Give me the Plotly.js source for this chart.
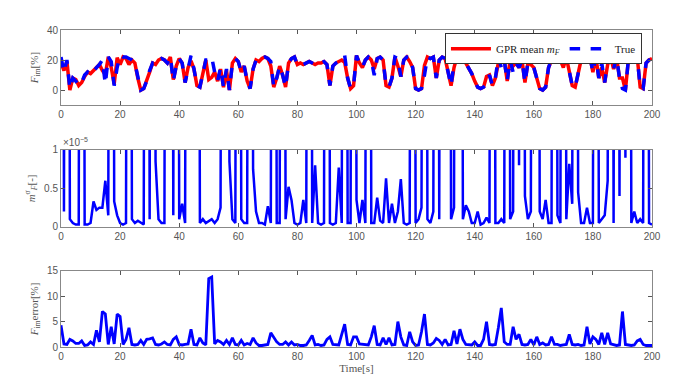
<!DOCTYPE html>
<html><head><meta charset="utf-8">
<script src="https://cdn.plot.ly/plotly-3.0.1.min.js"></script>
<style>body{margin:0;background:#fff}#c{width:700px;height:384px}</style>
</head><body><div id="c"></div>
<script>
// time axis [s]
const time = Array.from({length: 201}, (_, i) => i);
// True F_im [%]
const trueF = [22,12,20,1,8,6,3,5,10,12,10,13,15,17,20,4,22,19,3,15,
23,22,22,21,20,18,8,0,1,6,13,18,17,20,21,20,18,22,6,16,
21,18,5,15,23,14,3,2,12,20,20,22,12,6,15,2,14,0,18,21,
19,12,16,6,1,14,20,19,21,22,21,19,2,8,16,10,2,18,21,22,
17,18,17,18,19,18,17,18,18,19,17,3,16,18,19,20,23,8,1,3,
23,18,15,20,22,20,10,21,22,20,3,2,8,22,21,9,20,22,22,15,
1,0,1,10,22,21,22,8,20,22,21,12,3,18,22,23,21,18,15,11,
6,2,1,2,4,10,3,8,22,15,20,6,20,12,18,15,20,5,18,17,
15,8,1,0,2,15,20,23,22,20,15,22,12,3,2,10,20,21,17,22,
12,22,8,18,5,20,22,14,22,8,1,0,20,21,18,22,2,1,18,20,21];
// GPR mean m_F [%]
const gprMean = [18,13,19,0,8,7,3,5,9,12,11,13,15,17,13,10.5,22,15,4,21.5,
17,22,21,17,20,18,8,0,1,6,12,18,17,20,21,20,18,22,7,16,
21,18,5,15,19.5,14,3,2,12,20,7,8.5,12,6,14,2,13,0,18,21,
19,12,16,6,1,14,20,19,21,22,21,16,2,8,16,10,2,18,21,22,
17,18,17,18,19,18,17,18,18,19,17,3,16,18,19,20,18.5,8,1,3,
23,18,15,20,22,20,14,21,22,20,3,2,8,22,16,9,20,22,19,15,
1,0,1,16.5,22,21,22,8,20,22,21,12,3,15,22,19.5,21,18,15,11,
6,2,1,2,9,10,3,8,18,22.7,20,6,20,16,18,15,20,5,18,17,
15,8,1,0,2,15,20,23,22,20,15,22,12,3,2,10,20,21,21,22,
12,22,8,15,5,17,22,14,22,8,8,0,20,21,18,22,2,1,18,20,21];
// GPR variance m_F^sigma [x1e-5] (values above 1 run off the top of the panel)
const gprVar = [20,0.2,20,0.1,0.05,0.03,0.03,20,0.03,0.03,0.05,0.33,0.22,0.25,0.25,0.6,0.15,20,0.33,0.15,
0.05,0.03,0.05,20,0.1,0.05,0.08,0.05,0.03,20,0.1,20,0.85,0.1,0.05,0.05,20,20,0.15,20,
0.1,0.3,0.05,20,20,20,20,0.05,0.1,0.05,0.08,0.1,0.05,0.1,0.25,20,20,0.85,0.1,0.05,
20,0.1,0.05,0.05,20,0.75,0.2,0.05,0.05,0.03,0.27,0.05,20,0.05,0.05,20,0.1,0.52,0.35,0.05,
0.03,0.05,0.35,0.05,20,0.05,0.8,0.05,0.03,0.05,20,0.05,0.03,0.05,0.77,0.05,20,0.05,0.05,20,
0.35,0.05,0.35,0.05,20,0.05,0.05,0.38,0.08,0.05,0.63,0.05,0.3,0.05,0.2,0.62,0.05,0.03,0.05,20,
0.05,0.1,0.25,20,0.1,0.05,0.2,20,0.1,20,20,20,0.1,0.25,20,20,0.1,0.28,0.2,0.05,
0.05,0.2,0.03,0.05,0.12,0.05,20,0.05,0.05,0.1,0.05,20,0.1,0.2,20,0.8,20,0.4,0.1,0.2,
20,20,0.2,0.1,0.35,0.05,0.05,20,0.15,0.05,20,0.1,0.82,0.3,20,0.45,0.05,0.05,0.25,0.05,
0.05,20,0.05,0.1,0.15,0.6,20,0.05,20,0.4,20,0.9,20,0.05,0.2,0.05,0.1,0.05,20,0.05,0.03];
// F_im error [%]
const errF = [4.3,0.6,0.5,1.5,1.2,0.7,0.7,1.2,0.3,0.4,1,0.5,3.3,1,7,6.5,0.5,4,0.6,6.5,
6,0.5,1.5,3.8,0.5,0.4,0.5,1.3,0.5,1.5,1.6,1.8,0.5,0.4,0.6,1,0.5,0.4,1.5,2,
0.5,0.4,0.5,0.6,3.5,0.5,0.4,1.8,0.8,0.4,13.5,13.8,0.6,1.3,1,0.5,1.3,0.5,1.8,0.5,
0.4,1.3,0.4,0.7,0.5,1.8,0.8,0.3,0.3,0.4,0.5,2.8,2,1,0.5,0.5,1,0.4,1,0.4,
0.5,0.3,0.3,0.4,1.3,2.3,0.4,0.5,0.3,0.4,1.5,2,0.5,0.5,0.4,2.5,4.5,0.5,0.4,2,
2,0.6,0.5,0.5,0.4,2,4.2,0.5,0.4,1.8,0.5,1.8,0.4,0.5,5,2,0.4,0.3,3,1,
0.3,0.4,3,6.5,0.5,0.4,0.8,1.7,1.3,0.5,1.5,0.4,0.5,3.2,0.6,3.5,1.5,0.5,0.4,0.4,
1,0.3,0.3,1.5,5,0.5,0.4,0.5,3.8,7.7,1,0.5,0.5,4,1.5,2.5,0.5,0.4,0.5,1.5,
0.4,2,0.5,0.8,0.4,0.5,2,0.5,0.5,0.3,0.4,0.5,2.5,0.5,0.4,0.5,0.3,0.4,4,0.6,
2,1.5,0.5,2.8,0.5,2.8,0.6,0.5,0.3,0.4,7,0.5,0.4,0.3,0.4,1.2,1.5,0.5,0.3,0.3,0.3];
const xTicks = [0,20,40,60,80,100,120,140,160,180,200];

const serif = 'Liberation Serif, Times New Roman, serif';
const sans = 'Liberation Sans, Arial, sans-serif';
const tickFont = {family: sans, size: 10, color: '#555'};
const titleFont = {family: serif, size: 11, color: '#555'};

const traces = [
  {x: time, y: gprMean, type: 'scatter', mode: 'lines', name: 'GPR mean <i>m</i><sub><i>F</i></sub>',
   line: {color: '#ff0000', width: 3.5}, xaxis: 'x', yaxis: 'y'},
  {x: time, y: trueF, type: 'scatter', mode: 'lines', name: 'True',
   line: {color: '#0000ff', width: 3.5, dash: 'dash'}, xaxis: 'x', yaxis: 'y'},
  {x: time, y: gprVar, type: 'scatter', mode: 'lines', showlegend: false,
   line: {color: '#0000ff', width: 2.5}, xaxis: 'x2', yaxis: 'y2'},
  {x: time, y: errF, type: 'scatter', mode: 'lines', showlegend: false,
   line: {color: '#0000ff', width: 2.8}, xaxis: 'x3', yaxis: 'y3'}
];

function xa(anchor, title) {
  const a = {range: [0, 200], tickvals: xTicks, ticktext: xTicks.map(String), anchor: anchor,
    showline: true, mirror: 'ticks', linecolor: '#888', linewidth: 1, ticks: 'inside', ticklen: 4,
    tickcolor: '#555', showgrid: false, zeroline: false, tickfont: tickFont};
  if (title) a.title = {text: title, font: titleFont, standoff: 2};
  return a;
}
function ya(anchor, domain, range, tv, tt, title) {
  return {domain: domain, range: range, tickvals: tv, ticktext: tt, anchor: anchor,
    showline: true, mirror: 'ticks', linecolor: '#888', linewidth: 1, ticks: 'inside', ticklen: 4,
    tickcolor: '#555', showgrid: false, zeroline: false, tickfont: tickFont,
    title: {text: title, font: titleFont, standoff: 6}};
}

const layout = {
  width: 700, height: 384,
  margin: {l: 61, r: 48, t: 30, b: 37},
  paper_bgcolor: '#fff', plot_bgcolor: '#fff',
  showlegend: true,
  legend: {orientation: 'h', x: 0.983, xanchor: 'right', y: 0.99, yanchor: 'top',
    bgcolor: '#fff', bordercolor: '#333', borderwidth: 1,
    font: {family: serif, size: 11, color: '#222'}, tracegroupgap: 0, itemwidth: 40},
  xaxis: xa('y'),
  xaxis2: xa('y2'),
  xaxis3: xa('y3', 'Time[s]'),
  yaxis: ya('x', [0.763, 1], [-10, 40], [0, 20, 40], ['0', '20', '40'], '<i>F</i><sub>im</sub>[%]'),
  yaxis2: ya('x2', [0.379, 0.6215], [0, 1], [0, 0.5, 1], ['0', '0.5', '1'], '<i>m</i><sup>σ</sup><sub><i>F</i></sub>[-]'),
  yaxis3: ya('x3', [0, 0.24], [0, 15], [0, 5, 10, 15], ['0', '5', '10', '15'], '<i>F</i><sub>im</sub>error[%]'),
  annotations: [{text: '×10<sup>−5</sup>', xref: 'paper', yref: 'paper', x: 0, y: 0.6215,
    xanchor: 'left', yanchor: 'bottom', showarrow: false, font: {family: sans, size: 10, color: '#555'}}]
};

Plotly.newPlot('c', traces, layout, {displayModeBar: false, staticPlot: true});
</script></body></html>
